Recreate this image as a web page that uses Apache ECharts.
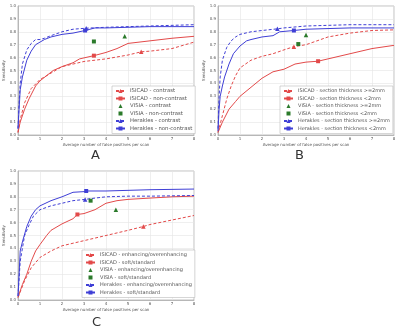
<!DOCTYPE html>
<html><head><meta charset="utf-8">
<script src="https://cdn.jsdelivr.net/npm/echarts@6/dist/echarts.min.js"></script>
<style>html,body{margin:0;padding:0;background:#fff}#c{width:400px;height:334px}</style>
</head><body><div id="c"></div>
<script>
// ---------- Data ----------
const xTicks = [0,1,2,3,4,5,6,7,8];
const yTicks = [0,0.1,0.2,0.3,0.4,0.5,0.6,0.7,0.8,0.9,1.0];
const panelLabels = ['A','B','C'];

// Panel A
const namesA = ['ISICAD - contrast','ISICAD - non-contrast','VISIA - contrast','VISIA - non-contrast','Herakles - contrast','Herakles - non-contrast'];
const A_isicad_c  = [[0,0.02],[0.1,0.12],[0.3,0.25],[0.6,0.36],[1,0.43],[1.5,0.48],[2,0.53],[3,0.57],[4,0.59],[5,0.62],[6,0.65],[7,0.67],[8,0.72]];
const A_isicad_c_mark = [5.6,0.645];
const A_isicad_nc = [[0,0.02],[0.1,0.1],[0.3,0.2],[0.5,0.28],[0.8,0.38],[1,0.42],[1.3,0.46],[1.6,0.5],[2,0.53],[2.5,0.56],[2.8,0.59],[4,0.64],[4.5,0.67],[5,0.71],[6,0.73],[7,0.75],[8,0.765]];
const A_isicad_nc_mark = [3.45,0.615];
const A_visia_c = [[4.85,0.765]];
const A_visia_nc = [[3.45,0.725]];
const A_herakles_c = [[0,0.05],[0.05,0.25],[0.1,0.4],[0.2,0.55],[0.4,0.66],[0.6,0.71],[0.8,0.74],[1,0.74],[1.2,0.75],[1.5,0.77],[2,0.8],[2.5,0.82],[4,0.835],[5,0.84],[6,0.845],[7,0.85],[8,0.855]];
const A_herakles_c_mark = [3.1,0.828];
const A_herakles_nc = [[0,0.05],[0.05,0.2],[0.1,0.35],[0.2,0.45],[0.4,0.58],[0.6,0.65],[0.8,0.7],[1,0.72],[1.2,0.74],[1.5,0.76],[2,0.78],[2.5,0.79],[3.5,0.83],[4,0.83],[5,0.835],[6,0.84],[8,0.84]];
const A_herakles_nc_mark = [3.05,0.81];

// Panel B
const namesB = ['ISICAD - section thickness >=2mm','ISICAD - section thickness <2mm','VISIA - section thickness >=2mm','VISIA - section thickness <2mm','Herakles - section thickness >=2mm','Herakles - section thickness <2mm'];
const B_isicad_ge = [[0,0.02],[0.2,0.15],[0.4,0.28],[0.6,0.38],[0.8,0.46],[1,0.52],[1.5,0.58],[2,0.61],[2.5,0.63],[3,0.66],[4,0.7],[4.5,0.73],[5,0.76],[6,0.79],[7,0.81],[8,0.815]];
const B_isicad_ge_mark = [3.45,0.685];
const B_isicad_lt = [[0,0.02],[0.2,0.1],[0.5,0.2],[0.8,0.26],[1,0.3],[1.5,0.37],[2,0.44],[2.5,0.49],[3,0.51],[3.5,0.55],[4,0.565],[5,0.59],[5.5,0.61],[6,0.63],[7,0.67],[8,0.695]];
const B_isicad_lt_mark = [4.55,0.572];
const B_visia_ge = [[4,0.775]];
const B_visia_lt = [[3.65,0.705]];
const B_herakles_ge = [[0,0.05],[0.05,0.3],[0.1,0.45],[0.2,0.58],[0.4,0.68],[0.6,0.73],[0.8,0.76],[1,0.78],[1.5,0.8],[2,0.81],[3,0.83],[4,0.845],[5,0.85],[6,0.855],[8,0.855]];
const B_herakles_ge_mark = [2.7,0.823];
const B_herakles_lt = [[0,0.03],[0.05,0.2],[0.1,0.3],[0.2,0.38],[0.3,0.45],[0.5,0.55],[0.7,0.63],[1,0.69],[1.3,0.73],[1.5,0.74],[2,0.76],[2.5,0.77],[2.8,0.8],[4,0.82],[5,0.825],[6,0.83],[8,0.83]];
const B_herakles_lt_mark = [3.45,0.81];

// Panel C
const namesC = ['ISICAD - enhancing/overenhancing','ISICAD - soft/standard','VISIA - enhancing/overenhancing','VISIA - soft/standard','Herakles - enhancing/overenhancing','Herakles - soft/standard'];
const C_isicad_e = [[0,0.02],[0.3,0.15],[0.6,0.25],[1,0.33],[1.5,0.38],[2,0.42],[3,0.46],[4,0.5],[5,0.54],[6,0.585],[7,0.62],[8,0.655]];
const C_isicad_e_mark = [5.7,0.57];
const C_isicad_s = [[0,0.02],[0.2,0.12],[0.4,0.2],[0.6,0.3],[0.8,0.38],[1,0.43],[1.3,0.5],[1.5,0.54],[2,0.59],[2.5,0.63],[3,0.67],[3.5,0.7],[4,0.75],[4.5,0.77],[5,0.78],[6,0.79],[7,0.8],[8,0.805]];
const C_isicad_s_mark = [2.7,0.663];
const C_visia_e = [[4.45,0.7]];
const C_visia_s = [[3.3,0.77]];
const C_herakles_e = [[0,0.03],[0.1,0.3],[0.2,0.4],[0.3,0.5],[0.5,0.58],[0.7,0.65],[1,0.7],[1.5,0.73],[2,0.75],[2.5,0.77],[3.5,0.79],[4,0.8],[5,0.805],[6,0.805],[8,0.81]];
const C_herakles_e_mark = [3.05,0.78];
const C_herakles_s = [[0,0.03],[0.05,0.2],[0.1,0.38],[0.2,0.45],[0.4,0.57],[0.6,0.65],[0.8,0.7],[1,0.73],[1.5,0.77],[2,0.8],[2.5,0.835],[3,0.84],[4,0.845],[5,0.85],[6,0.855],[8,0.86]];
const C_herakles_s_mark = [3.1,0.845];

// ---------- Styles ----------
const RED = '#e34a4a', BLUE = '#3f3fd6', GREEN = '#2b7a2b';
const FONT = 'DejaVu Sans';
const grids = [
  {left:18, top:6, width:176, height:129},
  {left:218, top:6, width:176, height:129},
  {left:18, top:171, width:176, height:129}
];
const legendPos = [
  {left:112, top:86, font:5.3},
  {left:280, top:86, font:4.95},
  {left:82, top:250, font:5.0}
];

function curveData(curve, mark){
  const pts = curve.map(p => ({value:p, symbol:'none'}));
  const m = {value:mark};
  let i = pts.findIndex(p => p.value[0] > mark[0]);
  if (i < 0) i = pts.length;
  pts.splice(i, 0, m);
  return pts;
}
function lineSeries(name, gi, curve, mark, color, dashed, sym){
  return {
    type:'line', name, xAxisIndex:gi, yAxisIndex:gi,
    data: curveData(curve, mark),
    symbol: sym, symbolSize: sym==='rect'?4:4.5, showAllSymbol:true,
    lineStyle:{color, width:1, type: dashed ? [3,2] : 'solid'},
    itemStyle:{color}, animation:false, z:3
  };
}
function markerSeries(name, gi, pts, sym){
  return {type:'line', name, xAxisIndex:gi, yAxisIndex:gi, data:pts,
    symbol:sym, symbolSize: sym==='rect'?4:4.5, showSymbol:true,
    lineStyle:{width:0, opacity:0}, itemStyle:{color:GREEN}, animation:false, z:4};
}
function panelSeries(gi, names, ic, icm, inc, incm, vc, vnc, hc, hcm, hnc, hncm){
  return [
    lineSeries(names[0], gi, ic, icm, RED, true, 'triangle'),
    lineSeries(names[1], gi, inc, incm, RED, false, 'rect'),
    markerSeries(names[2], gi, vc, 'triangle'),
    markerSeries(names[3], gi, vnc, 'rect'),
    lineSeries(names[4], gi, hc, hcm, BLUE, true, 'triangle'),
    lineSeries(names[5], gi, hnc, hncm, BLUE, false, 'rect')
  ];
}

const series = [].concat(
  panelSeries(0, namesA, A_isicad_c, A_isicad_c_mark, A_isicad_nc, A_isicad_nc_mark, A_visia_c, A_visia_nc, A_herakles_c, A_herakles_c_mark, A_herakles_nc, A_herakles_nc_mark),
  panelSeries(1, namesB, B_isicad_ge, B_isicad_ge_mark, B_isicad_lt, B_isicad_lt_mark, B_visia_ge, B_visia_lt, B_herakles_ge, B_herakles_ge_mark, B_herakles_lt, B_herakles_lt_mark),
  panelSeries(2, namesC, C_isicad_e, C_isicad_e_mark, C_isicad_s, C_isicad_s_mark, C_visia_e, C_visia_s, C_herakles_e, C_herakles_e_mark, C_herakles_s, C_herakles_s_mark)
);

const xAxes = grids.map((g,i) => ({
  type:'value', gridIndex:i, min:xTicks[0], max:xTicks[xTicks.length-1], interval:1,
  name:'Average number of false positives per scan', nameLocation:'middle', nameGap:8,
  nameTextStyle:{fontSize:4, color:'#555', fontFamily:FONT},
  axisLine:{show:true, lineStyle:{color:'#999', width:0.6}},
  axisTick:{show:false},
  axisLabel:{fontSize:4, color:'#555', margin:2, fontFamily:FONT},
  splitLine:{show:true, lineStyle:{color:'#e4e4e4', width:0.6}}
}));
const yAxes = grids.map((g,i) => ({
  type:'value', gridIndex:i, min:yTicks[0], max:yTicks[yTicks.length-1], interval:0.1,
  name:'Sensitivity', nameLocation:'middle', nameGap:12,
  nameTextStyle:{fontSize:4, color:'#555', fontFamily:FONT},
  axisLine:{show:true, lineStyle:{color:'#999', width:0.6}},
  axisTick:{show:false},
  axisLabel:{fontSize:4, color:'#555', margin:2, fontFamily:FONT, formatter:v=>v.toFixed(1)},
  splitLine:{show:true, lineStyle:{color:'#e4e4e4', width:0.6}}
}));

const legends = [namesA, namesB, namesC].map((names,i) => ({
  data:names, orient:'vertical', left:legendPos[i].left, top:legendPos[i].top,
  itemWidth:9, itemHeight:5, itemGap:2.5, padding:[2.5,3,2.5,3],
  borderColor:'#bbb', borderWidth:0.6, backgroundColor:'#fff',
  textStyle:{fontSize:legendPos[i].font, lineHeight:5, color:'#555', fontFamily:FONT},
  selectedMode:false
}));

const labelPos = [[96,157],[300,157],[97,324]];
const graphic = panelLabels.map((t,i)=>({
  type:'text', left:labelPos[i][0]-5, top:labelPos[i][1]-8,
  style:{text:t, fontSize:13, fill:'#333', fontFamily:FONT}
}));

const chart = echarts.init(document.getElementById('c'), null, {renderer:'canvas'});
chart.setOption({
  animation:false,
  grid: grids.map(g => Object.assign({show:true, borderColor:'#999', borderWidth:0.6, backgroundColor:'#fff'}, g)),
  xAxis:xAxes, yAxis:yAxes, legend:legends, series, graphic
});
</script></body></html>
